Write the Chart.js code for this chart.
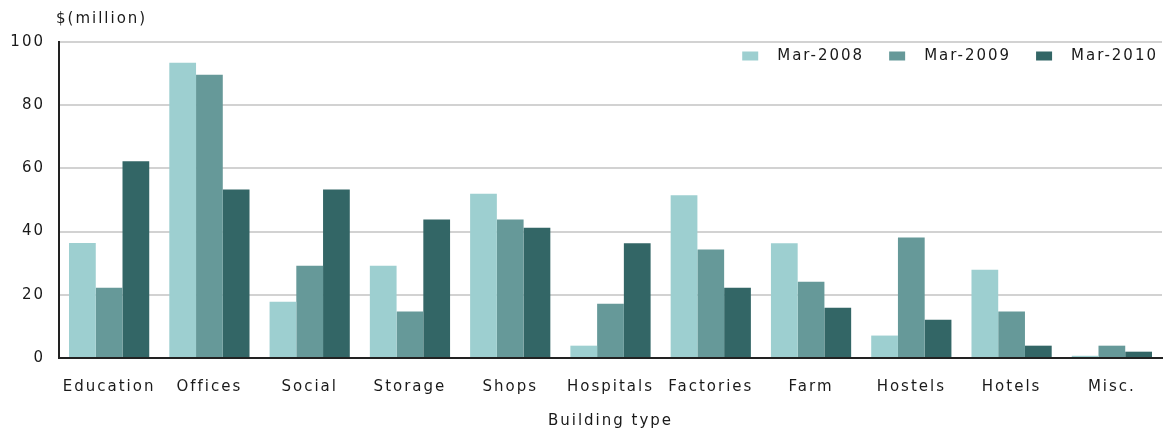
<!DOCTYPE html>
<html>
<head>
<meta charset="utf-8">
<script src="https://cdn.jsdelivr.net/npm/chart.js@4"></script>
<style>
    html, body { margin: 0; padding: 0; background: #fff; }
    #wrap { width: 1166px; height: 430px; position: relative; }
</style>
</head>
<body>
<div id="wrap"><canvas id="chart" width="1166" height="430"></canvas></div>
<script>
// Data
const categories = ['Education', 'Offices', 'Social', 'Storage', 'Shops', 'Hospitals',
    'Factories', 'Farm', 'Hostels', 'Hotels', 'Misc.'];
const seriesNames = ['Mar-2008', 'Mar-2009', 'Mar-2010'];
const mar2008 = [36.4, 93.4, 17.8, 29.2, 52.0, 3.9, 51.5, 36.3, 7.1, 27.9, 0.7];
const mar2009 = [22.2, 89.6, 29.2, 14.7, 43.8, 17.2, 34.3, 24.1, 38.1, 14.7, 3.9];
const mar2010 = [62.3, 53.3, 53.3, 43.8, 41.2, 36.3, 22.2, 15.9, 12.1, 3.9, 2.0];
const yTicks = [0, 20, 40, 60, 80, 100];
const yUnit = '$(million)';
const xTitle = 'Building type';

const colors = ['#9dcfd0', '#669999', '#336666'];
const FONT = { family: '"DejaVu Sans", Verdana, sans-serif', size: 15 };
const TEXT = '#1a1a1a';

// Wide letter spacing like the bitmap font in the reference
const spacing = {
    id: 'spacing',
    beforeUpdate(chart) { chart.ctx.letterSpacing = '2px'; },
    beforeDraw(chart) { chart.ctx.letterSpacing = '2px'; }
};

// Unit label and legend drawn inside the plot area
const extras = {
    id: 'extras',
    afterDraw(chart) {
        const ctx = chart.ctx;
        const area = chart.chartArea;
        ctx.save();
        ctx.letterSpacing = '2px';
        ctx.font = `${FONT.size}px ${FONT.family}`;
        ctx.fillStyle = TEXT;
        ctx.textBaseline = 'middle';
        ctx.textAlign = 'left';
        ctx.fillText(yUnit, 56, 19);

        // legend, right aligned
        const boxW = 16, boxH = 9, gapBox = 21, gapItem = 23;
        const y = 56;
        const widths = seriesNames.map(n => ctx.measureText(n).width);
        let total = 0;
        widths.forEach((w, i) => { total += boxW + gapBox + w + (i < widths.length - 1 ? gapItem : 0); });
        let x = area.right - total - 2;
        chart.data.datasets.forEach((ds, i) => {
            ctx.fillStyle = ds.backgroundColor;
            ctx.fillRect(x, y - boxH / 2, boxW, boxH);
            x += boxW + gapBox - 2;
            ctx.fillStyle = TEXT;
            ctx.fillText(ds.label, x, y);
            x += widths[i] + gapItem + 2;
        });
        ctx.restore();
    }
};

const datasets = [mar2008, mar2009, mar2010].map((values, i) => ({
    label: seriesNames[i],
    data: values,
    backgroundColor: colors[i],
    borderWidth: 0,
    categoryPercentage: 0.8,
    barPercentage: 1.0
}));

new Chart(document.getElementById('chart'), {
    type: 'bar',
    data: { labels: categories, datasets: datasets },
    options: {
        responsive: false,
        animation: false,
        devicePixelRatio: 1,
        layout: { padding: { top: 42, right: 4, left: 0, bottom: 0 } },
        plugins: {
            legend: { display: false },
            tooltip: { enabled: false },
            title: { display: false }
        },
        scales: {
            x: {
                grid: { display: false, drawTicks: false },
                border: { display: true, color: '#222', width: 2 },
                ticks: { color: TEXT, font: FONT, padding: 20, maxRotation: 0, autoSkip: false },
                title: { display: true, text: xTitle, color: TEXT, font: FONT, padding: { top: 2, bottom: 0 } },
                afterFit(scale) { scale.height = 72; }
            },
            y: {
                min: 0,
                max: 100,
                afterBuildTicks(scale) { scale.ticks = yTicks.map(v => ({ value: v })); },
                grid: { color: '#d2d2d2', lineWidth: 2, drawTicks: false },
                border: { display: true, color: '#222', width: 2 },
                ticks: { color: TEXT, font: FONT, padding: 14 },
                afterFit(scale) { scale.width = 59; }
            }
        }
    },
    plugins: [spacing, extras]
});
</script>
</body>
</html>
